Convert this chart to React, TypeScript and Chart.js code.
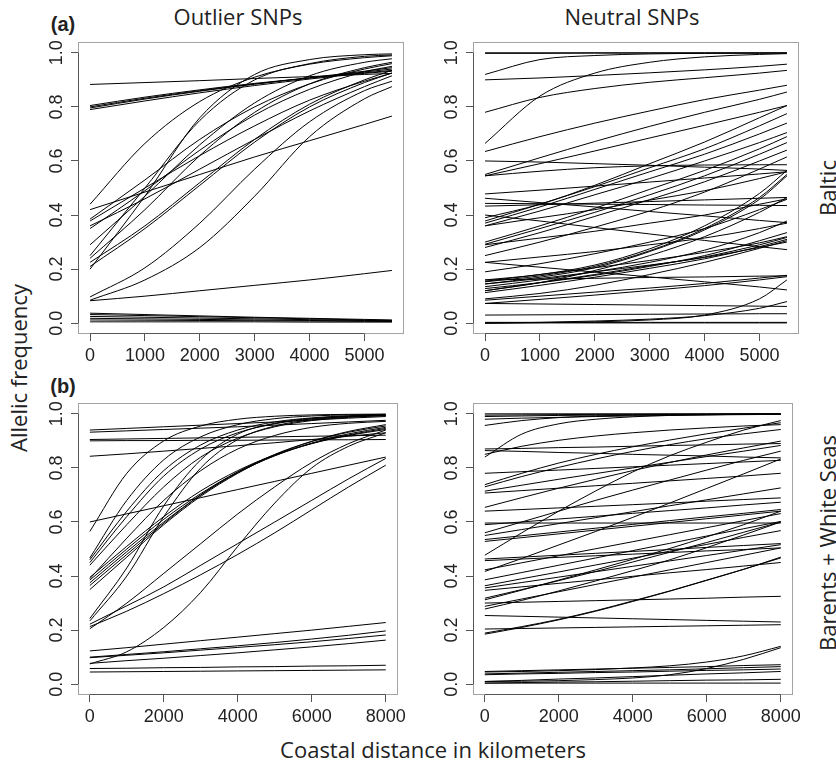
import React, { useEffect, useRef } from 'react';
import { Chart, registerables } from 'chart.js';
Chart.register(...registerables);

// ---------- data ----------
const xBaltic = [0, 1000, 2000, 3000, 4000, 5000, 5500];
const xBarents = [0, 1000, 2000, 3000, 4000, 5000, 6000, 7000, 8000];
const xTicksBaltic = [0, 1000, 2000, 3000, 4000, 5000];
const xTickLabelsBaltic = ['0', '1000', '2000', '3000', '4000', '5000'];
const xTicksBarents = [0, 2000, 4000, 6000, 8000];
const xTickLabelsBarents = ['0', '2000', '4000', '6000', '8000'];
const yTicks = [0, 0.2, 0.4, 0.6, 0.8, 1.0];
const yTickLabels = ['0.0', '0.2', '0.4', '0.6', '0.8', '1.0'];

const outlierBaltic: number[][] = [
  [0.883, 0.890, 0.897, 0.905, 0.912, 0.920, 0.924],
  [0.805, 0.836, 0.863, 0.887, 0.907, 0.926, 0.935],
  [0.800, 0.832, 0.860, 0.885, 0.907, 0.929, 0.940],
  [0.796, 0.829, 0.858, 0.884, 0.908, 0.932, 0.945],
  [0.790, 0.822, 0.852, 0.879, 0.903, 0.924, 0.932],
  [0.440, 0.665, 0.820, 0.910, 0.958, 0.982, 0.989],
  [0.420, 0.485, 0.550, 0.615, 0.675, 0.735, 0.766],
  [0.385, 0.530, 0.680, 0.800, 0.885, 0.940, 0.960],
  [0.378, 0.500, 0.620, 0.730, 0.825, 0.895, 0.925],
  [0.360, 0.460, 0.570, 0.680, 0.785, 0.875, 0.915],
  [0.350, 0.490, 0.640, 0.770, 0.865, 0.930, 0.950],
  [0.290, 0.470, 0.660, 0.815, 0.915, 0.965, 0.978],
  [0.250, 0.500, 0.750, 0.900, 0.960, 0.987, 0.992],
  [0.240, 0.420, 0.620, 0.780, 0.885, 0.945, 0.965],
  [0.225, 0.360, 0.520, 0.680, 0.810, 0.900, 0.935],
  [0.210, 0.350, 0.510, 0.670, 0.800, 0.890, 0.925],
  [0.200, 0.470, 0.760, 0.920, 0.975, 0.993, 0.996],
  [0.097, 0.205, 0.370, 0.570, 0.745, 0.860, 0.895],
  [0.085, 0.160, 0.280, 0.470, 0.690, 0.830, 0.875],
  [0.083, 0.100, 0.120, 0.140, 0.160, 0.183, 0.195],
  [0.037, 0.032, 0.027, 0.022, 0.018, 0.014, 0.012],
  [0.032, 0.028, 0.024, 0.020, 0.016, 0.012, 0.010],
  [0.025, 0.022, 0.019, 0.016, 0.013, 0.010, 0.009],
  [0.018, 0.016, 0.014, 0.012, 0.010, 0.008, 0.007],
  [0.012, 0.011, 0.010, 0.009, 0.008, 0.007, 0.006],
  [0.005, 0.005, 0.005, 0.005, 0.004, 0.004, 0.004],
];

const neutralBaltic: number[][] = [
  [1.000, 1.000, 1.000, 1.000, 1.000, 1.000, 1.000],
  [0.998, 0.998, 0.999, 0.999, 0.999, 0.999, 0.999],
  [0.920, 0.975, 0.990, 0.996, 0.998, 0.999, 0.999],
  [0.900, 0.907, 0.916, 0.926, 0.937, 0.950, 0.958],
  [0.780, 0.835, 0.868, 0.891, 0.908, 0.925, 0.935],
  [0.665, 0.840, 0.925, 0.965, 0.985, 0.994, 0.997],
  [0.635, 0.690, 0.740, 0.785, 0.827, 0.862, 0.880],
  [0.600, 0.596, 0.590, 0.584, 0.577, 0.570, 0.565],
  [0.550, 0.612, 0.672, 0.728, 0.780, 0.828, 0.855],
  [0.545, 0.562, 0.575, 0.582, 0.585, 0.586, 0.586],
  [0.545, 0.590, 0.637, 0.685, 0.732, 0.780, 0.805],
  [0.478, 0.492, 0.507, 0.522, 0.537, 0.552, 0.560],
  [0.462, 0.446, 0.430, 0.413, 0.397, 0.380, 0.372],
  [0.443, 0.442, 0.440, 0.439, 0.437, 0.436, 0.435],
  [0.433, 0.438, 0.444, 0.450, 0.456, 0.462, 0.465],
  [0.400, 0.378, 0.354, 0.330, 0.306, 0.283, 0.272],
  [0.390, 0.440, 0.510, 0.590, 0.670, 0.760, 0.805],
  [0.378, 0.440, 0.505, 0.575, 0.645, 0.730, 0.775],
  [0.370, 0.430, 0.495, 0.560, 0.625, 0.700, 0.740],
  [0.360, 0.415, 0.475, 0.535, 0.600, 0.668, 0.705],
  [0.360, 0.390, 0.420, 0.455, 0.490, 0.535, 0.560],
  [0.300, 0.360, 0.425, 0.495, 0.565, 0.645, 0.690],
  [0.292, 0.350, 0.410, 0.475, 0.545, 0.625, 0.668],
  [0.290, 0.315, 0.340, 0.370, 0.400, 0.440, 0.460],
  [0.280, 0.335, 0.395, 0.457, 0.523, 0.600, 0.640],
  [0.250, 0.300, 0.355, 0.415, 0.485, 0.570, 0.615],
  [0.225, 0.207, 0.189, 0.171, 0.153, 0.134, 0.123],
  [0.225, 0.245, 0.265, 0.290, 0.315, 0.350, 0.370],
  [0.190, 0.220, 0.257, 0.300, 0.350, 0.420, 0.458],
  [0.160, 0.180, 0.215, 0.275, 0.360, 0.480, 0.565],
  [0.160, 0.163, 0.166, 0.169, 0.171, 0.174, 0.175],
  [0.155, 0.180, 0.205, 0.232, 0.262, 0.297, 0.320],
  [0.153, 0.175, 0.210, 0.268, 0.350, 0.465, 0.550],
  [0.145, 0.170, 0.205, 0.265, 0.345, 0.458, 0.545],
  [0.145, 0.165, 0.190, 0.215, 0.243, 0.280, 0.300],
  [0.135, 0.160, 0.190, 0.225, 0.270, 0.335, 0.378],
  [0.128, 0.150, 0.177, 0.210, 0.250, 0.305, 0.335],
  [0.120, 0.150, 0.180, 0.213, 0.245, 0.290, 0.317],
  [0.120, 0.150, 0.195, 0.250, 0.320, 0.410, 0.465],
  [0.113, 0.140, 0.170, 0.203, 0.238, 0.283, 0.310],
  [0.090, 0.110, 0.140, 0.180, 0.225, 0.277, 0.305],
  [0.085, 0.100, 0.115, 0.130, 0.147, 0.167, 0.177],
  [0.073, 0.088, 0.104, 0.121, 0.139, 0.160, 0.172],
  [0.073, 0.071, 0.069, 0.067, 0.065, 0.063, 0.062],
  [0.030, 0.031, 0.032, 0.033, 0.034, 0.035, 0.035],
  [0.003, 0.003, 0.003, 0.003, 0.003, 0.003, 0.003],
  [0.001, 0.001, 0.001, 0.001, 0.001, 0.001, 0.001],
  [0.000, 0.002, 0.005, 0.012, 0.030, 0.090, 0.160],
  [0.000, 0.003, 0.008, 0.015, 0.028, 0.055, 0.080],
];

const outlierBarents: number[][] = [
  [0.940, 0.946, 0.952, 0.958, 0.964, 0.970, 0.977, 0.984, 0.990],
  [0.932, 0.937, 0.942, 0.947, 0.952, 0.958, 0.964, 0.970, 0.976],
  [0.905, 0.907, 0.909, 0.911, 0.913, 0.915, 0.917, 0.919, 0.921],
  [0.900, 0.901, 0.901, 0.902, 0.902, 0.903, 0.904, 0.904, 0.905],
  [0.843, 0.852, 0.862, 0.872, 0.882, 0.893, 0.905, 0.917, 0.930],
  [0.600, 0.630, 0.660, 0.690, 0.720, 0.750, 0.780, 0.810, 0.840],
  [0.565, 0.780, 0.900, 0.955, 0.980, 0.991, 0.996, 0.998, 0.999],
  [0.467, 0.680, 0.830, 0.915, 0.960, 0.982, 0.992, 0.996, 0.998],
  [0.460, 0.640, 0.790, 0.885, 0.940, 0.970, 0.985, 0.993, 0.996],
  [0.450, 0.620, 0.770, 0.870, 0.930, 0.963, 0.981, 0.990, 0.995],
  [0.440, 0.590, 0.730, 0.840, 0.910, 0.952, 0.975, 0.987, 0.993],
  [0.395, 0.510, 0.620, 0.715, 0.790, 0.848, 0.890, 0.920, 0.942],
  [0.390, 0.540, 0.680, 0.790, 0.870, 0.920, 0.950, 0.965, 0.972],
  [0.385, 0.500, 0.610, 0.705, 0.785, 0.845, 0.890, 0.922, 0.946],
  [0.375, 0.490, 0.600, 0.700, 0.782, 0.845, 0.892, 0.926, 0.950],
  [0.365, 0.480, 0.595, 0.700, 0.785, 0.850, 0.898, 0.932, 0.955],
  [0.350, 0.470, 0.590, 0.695, 0.780, 0.848, 0.898, 0.935, 0.960],
  [0.243, 0.430, 0.660, 0.830, 0.925, 0.965, 0.983, 0.991, 0.995],
  [0.234, 0.400, 0.620, 0.800, 0.905, 0.955, 0.978, 0.989, 0.994],
  [0.222, 0.290, 0.360, 0.440, 0.520, 0.600, 0.680, 0.760, 0.835],
  [0.213, 0.270, 0.335, 0.405, 0.480, 0.560, 0.645, 0.730, 0.810],
  [0.205, 0.300, 0.410, 0.520, 0.630, 0.730, 0.820, 0.890, 0.940],
  [0.075, 0.120, 0.210, 0.340, 0.510, 0.670, 0.800, 0.880, 0.930],
  [0.123, 0.135, 0.148, 0.161, 0.174, 0.187, 0.200, 0.214, 0.228],
  [0.100, 0.110, 0.120, 0.131, 0.142, 0.154, 0.167, 0.181, 0.197],
  [0.098, 0.107, 0.116, 0.126, 0.136, 0.146, 0.157, 0.169, 0.182],
  [0.077, 0.087, 0.096, 0.106, 0.116, 0.127, 0.138, 0.150, 0.163],
  [0.058, 0.059, 0.061, 0.062, 0.064, 0.065, 0.067, 0.068, 0.070],
  [0.045, 0.046, 0.047, 0.048, 0.049, 0.050, 0.051, 0.052, 0.053],
];

const neutralBarents: number[][] = [
  [1.000, 1.000, 1.000, 1.000, 1.000, 1.000, 1.000, 1.000, 1.000],
  [0.995, 0.996, 0.997, 0.998, 0.998, 0.999, 0.999, 1.000, 1.000],
  [0.990, 0.992, 0.994, 0.995, 0.996, 0.997, 0.998, 0.999, 0.999],
  [0.980, 0.984, 0.987, 0.990, 0.992, 0.994, 0.996, 0.997, 0.998],
  [0.957, 0.975, 0.986, 0.992, 0.995, 0.997, 0.998, 0.999, 0.999],
  [0.840, 0.925, 0.963, 0.980, 0.989, 0.994, 0.996, 0.998, 0.998],
  [0.850, 0.880, 0.902, 0.918, 0.930, 0.940, 0.948, 0.955, 0.960],
  [0.870, 0.872, 0.875, 0.877, 0.880, 0.883, 0.885, 0.888, 0.890],
  [0.864, 0.861, 0.857, 0.854, 0.850, 0.847, 0.844, 0.840, 0.837],
  [0.780, 0.786, 0.792, 0.798, 0.804, 0.810, 0.816, 0.822, 0.828],
  [0.738, 0.780, 0.818, 0.850, 0.878, 0.903, 0.926, 0.947, 0.967],
  [0.730, 0.768, 0.802, 0.833, 0.861, 0.886, 0.908, 0.926, 0.942],
  [0.714, 0.736, 0.758, 0.779, 0.800, 0.821, 0.842, 0.862, 0.883],
  [0.707, 0.716, 0.725, 0.734, 0.743, 0.752, 0.761, 0.770, 0.780],
  [0.654, 0.690, 0.725, 0.758, 0.790, 0.820, 0.848, 0.874, 0.899],
  [0.640, 0.646, 0.652, 0.658, 0.664, 0.670, 0.677, 0.683, 0.689],
  [0.596, 0.596, 0.596, 0.596, 0.596, 0.596, 0.596, 0.596, 0.596],
  [0.590, 0.600, 0.611, 0.621, 0.632, 0.642, 0.652, 0.663, 0.673],
  [0.560, 0.600, 0.640, 0.680, 0.718, 0.755, 0.792, 0.828, 0.862],
  [0.550, 0.572, 0.594, 0.616, 0.638, 0.660, 0.682, 0.704, 0.726],
  [0.535, 0.549, 0.563, 0.577, 0.591, 0.605, 0.619, 0.632, 0.646],
  [0.528, 0.542, 0.556, 0.570, 0.584, 0.598, 0.612, 0.626, 0.640],
  [0.477, 0.560, 0.640, 0.715, 0.785, 0.845, 0.895, 0.940, 0.975],
  [0.463, 0.470, 0.477, 0.484, 0.491, 0.498, 0.506, 0.513, 0.520],
  [0.457, 0.463, 0.469, 0.475, 0.481, 0.487, 0.493, 0.498, 0.504],
  [0.423, 0.449, 0.475, 0.501, 0.527, 0.553, 0.579, 0.605, 0.631],
  [0.417, 0.465, 0.515, 0.565, 0.617, 0.670, 0.724, 0.778, 0.833],
  [0.386, 0.413, 0.440, 0.467, 0.494, 0.521, 0.548, 0.575, 0.602],
  [0.364, 0.390, 0.415, 0.441, 0.466, 0.492, 0.517, 0.543, 0.568],
  [0.356, 0.376, 0.396, 0.416, 0.436, 0.456, 0.476, 0.496, 0.516],
  [0.347, 0.360, 0.373, 0.386, 0.399, 0.412, 0.424, 0.437, 0.450],
  [0.318, 0.350, 0.383, 0.417, 0.452, 0.488, 0.524, 0.562, 0.600],
  [0.312, 0.348, 0.385, 0.423, 0.462, 0.502, 0.545, 0.590, 0.640],
  [0.300, 0.303, 0.306, 0.309, 0.312, 0.315, 0.318, 0.322, 0.325],
  [0.288, 0.315, 0.342, 0.369, 0.396, 0.423, 0.450, 0.477, 0.504],
  [0.278, 0.310, 0.345, 0.382, 0.420, 0.460, 0.505, 0.552, 0.600],
  [0.254, 0.251, 0.248, 0.245, 0.242, 0.239, 0.236, 0.233, 0.230],
  [0.204, 0.206, 0.208, 0.210, 0.212, 0.214, 0.216, 0.218, 0.220],
  [0.189, 0.213, 0.240, 0.272, 0.308, 0.345, 0.385, 0.425, 0.467],
  [0.185, 0.210, 0.238, 0.270, 0.306, 0.344, 0.384, 0.425, 0.470],
  [0.047, 0.050, 0.053, 0.056, 0.059, 0.062, 0.065, 0.069, 0.072],
  [0.038, 0.041, 0.044, 0.047, 0.050, 0.053, 0.057, 0.061, 0.065],
  [0.045, 0.047, 0.050, 0.054, 0.060, 0.068, 0.082, 0.105, 0.140],
  [0.035, 0.038, 0.040, 0.043, 0.045, 0.048, 0.051, 0.053, 0.056],
  [0.010, 0.011, 0.013, 0.017, 0.023, 0.035, 0.058, 0.092, 0.135],
  [0.010, 0.014, 0.019, 0.023, 0.028, 0.033, 0.038, 0.042, 0.047],
  [0.004, 0.006, 0.008, 0.009, 0.011, 0.013, 0.015, 0.016, 0.018],
  [0.004, 0.004, 0.004, 0.004, 0.004, 0.004, 0.004, 0.004, 0.004],
];

// ---------- R-style box / axes plugin ----------
const rAxesPlugin = {
  id: 'rAxes',
  afterDraw(chart: any, _args: any, opts: any) {
    const { ctx, chartArea: a, scales } = chart;
    const xs = scales.x;
    const ys = scales.y;
    ctx.save();
    // box
    ctx.strokeStyle = '#a3a3a3';
    ctx.lineWidth = 1;
    ctx.strokeRect(Math.round(a.left) + 0.5, Math.round(a.top) + 0.5, Math.round(a.right - a.left) - 1, Math.round(a.bottom - a.top) - 1);
    // axis lines from first to last tick
    ctx.strokeStyle = '#555';
    const xt: number[] = opts.xTicks;
    const yt: number[] = opts.yTicks;
    const bx = Math.round(a.bottom) - 0.5;
    const lx = Math.round(a.left) + 0.5;
    ctx.beginPath();
    ctx.moveTo(xs.getPixelForValue(xt[0]), bx);
    ctx.lineTo(xs.getPixelForValue(xt[xt.length - 1]), bx);
    ctx.moveTo(lx, ys.getPixelForValue(yt[0]));
    ctx.lineTo(lx, ys.getPixelForValue(yt[yt.length - 1]));
    ctx.stroke();
    // rotated y tick labels
    ctx.fillStyle = '#222';
    ctx.font = '18px "Liberation Sans", Arial, sans-serif';
    ctx.textAlign = 'center';
    ctx.textBaseline = 'alphabetic';
    yt.forEach((v, i) => {
      const py = ys.getPixelForValue(v);
      ctx.save();
      ctx.translate(a.left - 16, py);
      ctx.rotate(-Math.PI / 2);
      ctx.fillText(opts.yLabels[i], 0, 0);
      ctx.restore();
    });
    ctx.restore();
  },
};

type PanelProps = {
  left: number;
  top: number;
  xs: number[];
  series: number[][];
  xTicks: number[];
  xLabels: string[];
  xMin: number;
  xMax: number;
};

const CW = 372;
const CH = 334;

function Panel({ left, top, xs, series, xTicks, xLabels, xMin, xMax }: PanelProps) {
  const ref = useRef<HTMLCanvasElement>(null);
  useEffect(() => {
    const chart = new Chart(ref.current as HTMLCanvasElement, {
      type: 'line',
      data: {
        datasets: series.map((s) => ({
          data: s.map((y, i) => ({ x: xs[i], y })),
          borderColor: '#000',
          borderWidth: 1,
          pointRadius: 0,
          fill: false,
          cubicInterpolationMode: 'monotone' as const,
        })),
      },
      options: {
        animation: false,
        responsive: false,
        events: [],
        layout: { padding: { top: 6, right: 6, left: 0, bottom: 0 } },
        plugins: {
          legend: { display: false },
          tooltip: { enabled: false },
          // @ts-ignore
          rAxes: { xTicks, yTicks, yLabels: yTickLabels },
        },
        scales: {
          x: {
            type: 'linear',
            min: xMin,
            max: xMax,
            afterBuildTicks: (s: any) => {
              s.ticks = xTicks.map((v) => ({ value: v }));
            },
            afterFit: (s: any) => {
              s.height = 36;
            },
            grid: { display: true, drawOnChartArea: false, drawTicks: true, tickLength: 7, color: '#555', lineWidth: 1 },
            border: { display: false },
            ticks: {
              autoSkip: false,
              maxRotation: 0,
              minRotation: 0,
              padding: 4,
              color: '#222',
              font: { family: '"Liberation Sans", Arial, sans-serif', size: 18 },
              callback: (_v: any, i: number) => xLabels[i],
            },
          },
          y: {
            type: 'linear',
            min: -0.04,
            max: 1.04,
            afterBuildTicks: (s: any) => {
              s.ticks = yTicks.map((v) => ({ value: v }));
            },
            afterFit: (s: any) => {
              s.width = 40;
            },
            grid: { display: true, drawOnChartArea: false, drawTicks: true, tickLength: 7, color: '#555', lineWidth: 1 },
            border: { display: false },
            ticks: { display: false },
          },
        },
      } as any,
      plugins: [rAxesPlugin],
    });
    return () => chart.destroy();
  }, []);
  return (
    <canvas
      ref={ref}
      width={CW}
      height={CH}
      style={{ position: 'absolute', left, top, width: CW, height: CH }}
    />
  );
}

const titleFont = '"Open Sans", "Noto Sans", sans-serif';

function Label({ x, y, text, rotate, size = 22, bold = false, family = titleFont }: { x: number; y: number; text: string; rotate?: boolean; size?: number; bold?: boolean; family?: string }) {
  return (
    <div
      style={{
        position: 'absolute',
        left: x,
        top: y,
        transform: `translate(-50%, -50%)${rotate ? ' rotate(-90deg)' : ''}`,
        fontFamily: family,
        fontSize: size,
        fontWeight: bold ? 700 : 400,
        lineHeight: 1,
        whiteSpace: 'nowrap',
        color: '#222',
      }}
    >
      {text}
    </div>
  );
}

export default function App() {
  const labelFamily = '"Liberation Sans", Arial, sans-serif';
  return (
    <div style={{ position: 'absolute', left: 0, top: 0, width: 836, height: 765, background: '#fff', overflow: 'hidden' }}>
      <Panel left={38} top={36} xs={xBaltic} series={outlierBaltic} xTicks={xTicksBaltic} xLabels={xTickLabelsBaltic} xMin={-220} xMax={5720} />
      <Panel left={433} top={36} xs={xBaltic} series={neutralBaltic} xTicks={xTicksBaltic} xLabels={xTickLabelsBaltic} xMin={-220} xMax={5720} />
      <Panel left={38} top={397} xs={xBarents} series={outlierBarents} xTicks={xTicksBarents} xLabels={xTickLabelsBarents} xMin={-320} xMax={8320} />
      <Panel left={433} top={397} xs={xBarents} series={neutralBarents} xTicks={xTicksBarents} xLabels={xTickLabelsBarents} xMin={-320} xMax={8320} />
      <Label x={63} y={24} text="(a)" bold size={20} family={labelFamily} />
      <Label x={63} y={386} text="(b)" bold size={20} family={labelFamily} />
      <Label x={238} y={16} text="Outlier SNPs" />
      <Label x={632} y={16} text="Neutral SNPs" />
      <Label x={18} y={368} text="Allelic frequency" rotate />
      <Label x={433} y={749} text="Coastal distance in kilometers" />
      <Label x={827} y={188} text="Baltic" rotate />
      <Label x={827} y={543} text="Barents + White Seas" rotate />
    </div>
  );
}
